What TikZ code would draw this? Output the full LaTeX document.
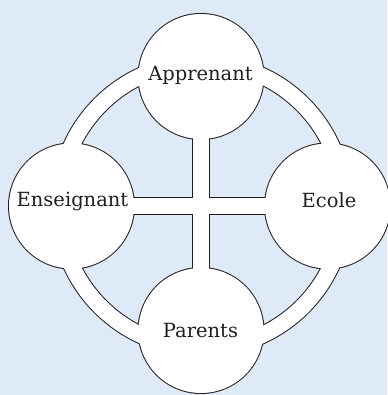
\documentclass[tikz,border=0pt]{standalone}
\usepackage{fontspec}
\usepackage{tikz}
\newfontfamily\police{DejaVu Serif}
\definecolor{fondbleu}{RGB}{222,234,247}
\definecolor{trait}{RGB}{35,31,32}

\begin{document}
\begin{tikzpicture}[line cap=butt,line join=miter,x=1pt,y=-1pt,
  cercle/.style={circle,minimum size=125pt,inner sep=0pt},
  bord/.style={draw=trait,line width=2pt},
  bande/.style={trait,line width=18pt},
  bandeblanche/.style={white,line width=16pt},
  etiquette/.style={font=\police\fontsize{19.5}{23}\selectfont,text=trait,inner sep=0pt,anchor=base}]
\fill[fondbleu] (0,0) rectangle (387,395);
\useasboundingbox (0,0) rectangle (387,395);
\coordinate (milieu) at (201.5,205.5);
% les quatre cercles
\node [cercle,bord] (app) at (201,76.5) {};
\node [cercle,bord] (ens) at (71.5,206) {};
\node [cercle,bord] (eco) at (327.5,206) {};
\node [cercle,bord] (par) at (201,330.5) {};
% bords noirs de l'anneau et de la croix
\draw [bande] (milieu) circle (143pt);
\draw [bande] (app.center) -- (par.center);
\draw [bande] (ens.center) -- (eco.center);
% interieurs blancs
\draw [bandeblanche] (milieu) circle (143pt);
\draw [bandeblanche] (app.center) -- (par.center);
\draw [bandeblanche] (ens.center) -- (eco.center);
\foreach \c in {app,ens,eco,par}
  \fill [white] (\c.center) circle (62.5pt);
% textes
\node [etiquette] (tapp) at (200.5,81) {Apprenant};
\node [etiquette] (tens) at (72.5,206.7) {Enseignant};
\node [etiquette] (teco) at (329,207) {Ecole};
\node [etiquette] (tpar) at (200.5,337.7) {Parents};
\end{tikzpicture}
\end{document}
